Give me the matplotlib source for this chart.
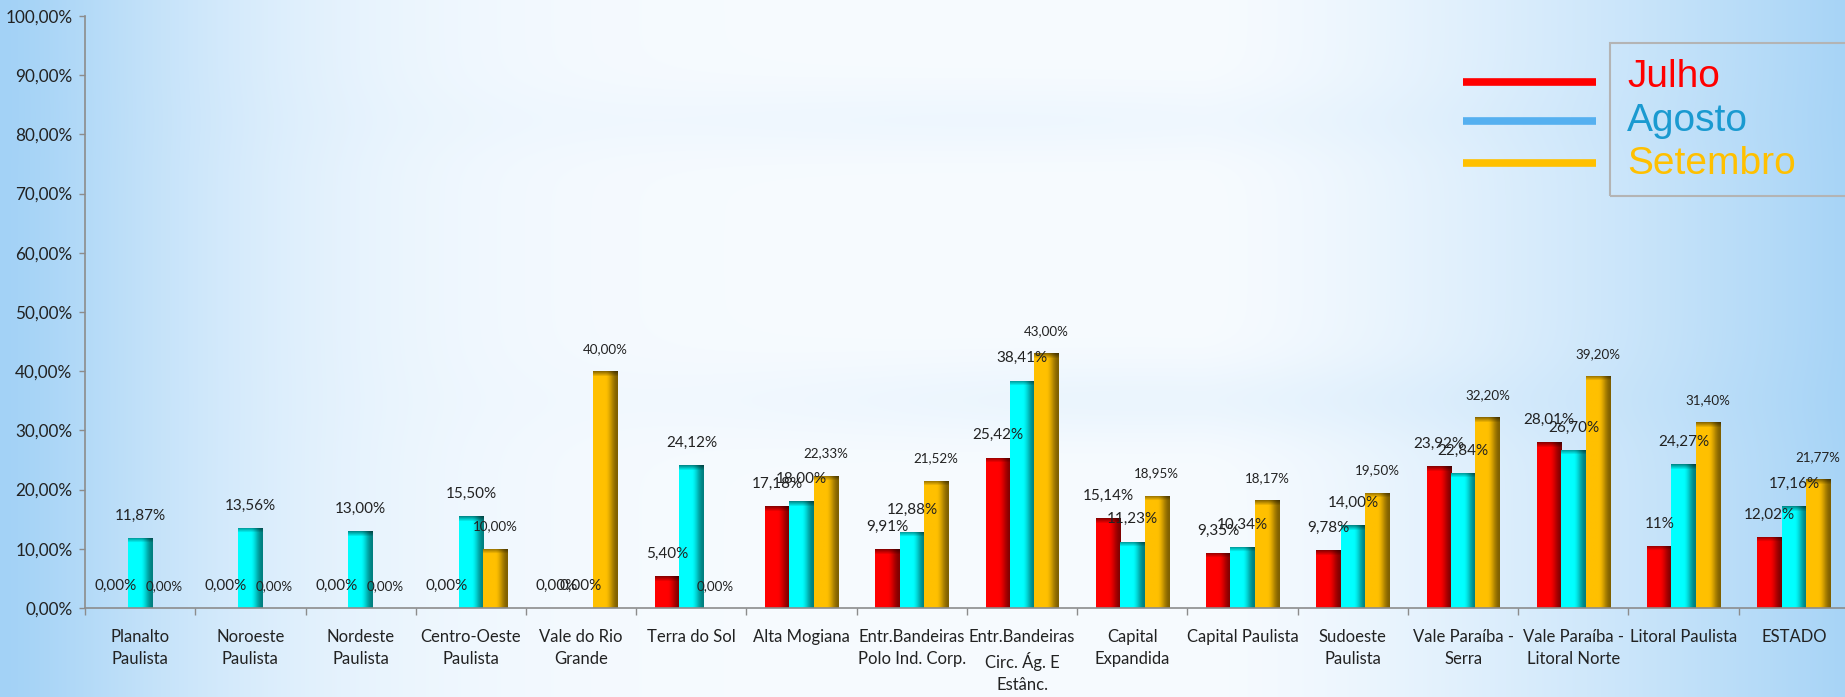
import numpy as np
import matplotlib
matplotlib.use("Agg")
import matplotlib.pyplot as plt
from matplotlib import font_manager
from matplotlib.lines import Line2D
from matplotlib.patches import Rectangle
from matplotlib.colors import to_rgb

# ---- data ----
categories = [
    "Planalto\nPaulista", "Noroeste\nPaulista", "Nordeste\nPaulista",
    "Centro-Oeste\nPaulista", "Vale do Rio\nGrande", "Terra do Sol",
    "Alta Mogiana", "Entr.Bandeiras\nPolo Ind. Corp.",
    "Entr.Bandeiras\nCirc. Ág. E\nEstânc.", "Capital\nExpandida",
    "Capital Paulista", "Sudoeste\nPaulista", "Vale Paraíba -\nSerra",
    "Vale Paraíba -\nLitoral Norte", "Litoral Paulista", "ESTADO",
]
julho = [0.00, 0.00, 0.00, 0.00, 0.00, 5.40, 17.18, 9.91, 25.42, 15.14,
         9.35, 9.78, 23.92, 28.01, 10.50, 12.02]
agosto = [11.87, 13.56, 13.00, 15.50, 0.00, 24.12, 18.00, 12.88, 38.41,
          11.23, 10.34, 14.00, 22.84, 26.70, 24.27, 17.16]
setembro = [0.00, 0.00, 0.00, 10.00, 40.00, 0.00, 22.33, 21.52, 43.00,
            18.95, 18.17, 19.50, 32.20, 39.20, 31.40, 21.77]
series_names = ["Julho", "Agosto", "Setembro"]


def fmt(v):
    return f"{v:.2f}".replace(".", ",") + "%"


julho_text = [fmt(v) for v in julho]
julho_text[14] = "11%"
agosto_text = [fmt(v) for v in agosto]
setembro_text = [fmt(v) for v in setembro]

# ---- fonts ----
names = {f.name for f in font_manager.fontManager.ttflist}
body = "Lato" if "Lato" in names else "Liberation Sans"
plt.rcParams["font.family"] = [body, "DejaVu Sans"]

W, H = 1845, 697
fig = plt.figure(figsize=(W / 100, H / 100), dpi=100)
renderer = fig.canvas.get_renderer()


def fit_size(sample, target_px):
    # font size (pt) that makes sample text target_px wide
    t = fig.text(0, 0, sample, fontsize=10)
    w = t.get_window_extent(renderer).width
    t.remove()
    return 10 * target_px / w


cat_fs = fit_size("Capital Paulista", 112)
tick_fs = fit_size("100,00%", 67)
lab_fs = fit_size("0,00%", 42)
lab_fs_small = fit_size("0,00%", 37)

# ---- background ----
bg_ax = fig.add_axes([0, 0, 1, 1], zorder=0)
yy, xx = np.mgrid[0:H, 0:W]
w_left = np.exp(-(xx / 250.0) ** 1.4)
w_right = np.clip((xx - 1200) / 645.0, 0, 1) ** 1.4
band1 = 0.10 * np.exp(-((yy - 120) / 35.0) ** 2) * np.exp(-((xx - 1000) / 500.0) ** 2)
band2 = 0.14 * np.exp(-((yy - 400) / 40.0) ** 2) * np.exp(-((xx - 1150) / 450.0) ** 2)
weight = np.clip(np.maximum(w_left, w_right * 0.95) + band1 + band2, 0, 1)
white = np.array(to_rgb("#f7fbff"))
blue = np.array(to_rgb("#a3d2f6"))
bg = white[None, None, :] * (1 - weight[..., None]) + blue[None, None, :] * weight[..., None]
bg_ax.imshow(bg, aspect="auto", extent=[0, 1, 0, 1], origin="upper")
bg_ax.set_axis_off()

# ---- main axes ----
ax = fig.add_axes([85 / W, 1 - 608 / H, (1849 - 85) / W, (608 - 16) / H], zorder=1)
ax.set_facecolor("none")

x = np.arange(len(categories))
bw = 0.22
colors = ["#ff0000", "#00ffff", "#ffc000"]
values = [julho, agosto, setembro]
texts = [julho_text, agosto_text, setembro_text]
label_sizes = [lab_fs, lab_fs, lab_fs_small]

ax.set_xlim(-0.5, len(categories) - 0.5)
ax.set_ylim(0, 100)
px_per_unit = (608 - 16) / 100.0


def shade(patch, color):
    x0, y0 = patch.get_x(), patch.get_y()
    w, h = patch.get_width(), patch.get_height()
    if h <= 0:
        return
    rows = max(int(round(h * px_per_unit)), 2)
    cols = 40
    t = np.linspace(0, 1, cols)
    s = np.clip((t - 0.5) / 0.5, 0, 1)
    fx = 1 - 0.5 * (s * s * (3 - 2 * s))
    fy = np.ones(rows)
    cap = min(6, rows)
    fy[:cap] = np.linspace(0.55, 1.0, cap)
    f = fy[:, None] * fx[None, :]
    base = np.array(to_rgb(color))
    img = base[None, None, :] * f[..., None]
    im = ax.imshow(img, extent=[x0, x0 + w, y0, y0 + h], aspect="auto",
                   origin="upper", zorder=2, interpolation="bilinear")
    im.set_clip_path(patch)


for k, (vals, col, txt, fs) in enumerate(zip(values, colors, texts, label_sizes)):
    pos = x + (k - 1) * bw
    bars = ax.bar(pos, vals, width=bw, color=col, zorder=2, linewidth=0,
                  label=series_names[k])
    for patch in bars:
        shade(patch, col)
    for xi, v, t in zip(pos, vals, txt):
        ax.annotate(t, (xi, v), xytext=(0, 16), textcoords="offset points",
                    ha="center", va="center", fontsize=fs, color="#222222",
                    zorder=5)

ax.set_xlim(-0.5, len(categories) - 0.5)
ax.set_ylim(0, 100)

# y axis
yticks = np.arange(0, 101, 10)
ax.set_yticks(yticks)
ax.set_yticklabels([fmt(v) for v in yticks])
ax.tick_params(axis="y", direction="out", length=4, width=1, color="#8c8c8c",
               labelsize=tick_fs, labelcolor="#222222", pad=5)

# x axis: tick marks between categories, labels at centers
ax.set_xticks(np.arange(-0.5, len(categories), 1.0))
ax.set_xticklabels([])
ax.set_xticks(x, minor=True)
ax.set_xticklabels(categories, minor=True, fontsize=cat_fs, color="#222222",
                   linespacing=1.45)
ax.tick_params(axis="x", which="major", direction="out", length=5, width=1,
               color="#8c8c8c")
ax.tick_params(axis="x", which="minor", length=0, pad=15)

for side in ["top", "right"]:
    ax.spines[side].set_visible(False)
for side in ["left", "bottom"]:
    ax.spines[side].set_color("#8c8c8c")
    ax.spines[side].set_linewidth(1.2)

# ---- legend (drawn like the original) ----
leg_y = [82, 121, 163]
leg_base = [87, 131, 174]
leg_line_colors = ["#ff0000", "#55b0f0", "#ffc000"]
leg_text_colors = ["#ff0000", "#1a9ad0", "#ffc000"]
for name, yl, yb, lc, tc in zip(series_names, leg_y, leg_base,
                                leg_line_colors, leg_text_colors):
    fig.add_artist(Line2D([1463 / W, 1596 / W], [1 - yl / H, 1 - yl / H],
                          color=lc, linewidth=5.5, solid_capstyle="butt",
                          zorder=3))
    fig.text(1627 / W, 1 - yb / H, name, color=tc, fontsize=28,
             family=["Liberation Sans", "DejaVu Sans"], ha="left",
             va="baseline", zorder=3)
fig.add_artist(Rectangle((1610 / W, 1 - 196 / H), (1850 - 1610) / W,
                         (196 - 43) / H, fill=False, edgecolor="#b4b4b4",
                         linewidth=1.5, zorder=3))

fig.savefig("out.png", dpi=100)
